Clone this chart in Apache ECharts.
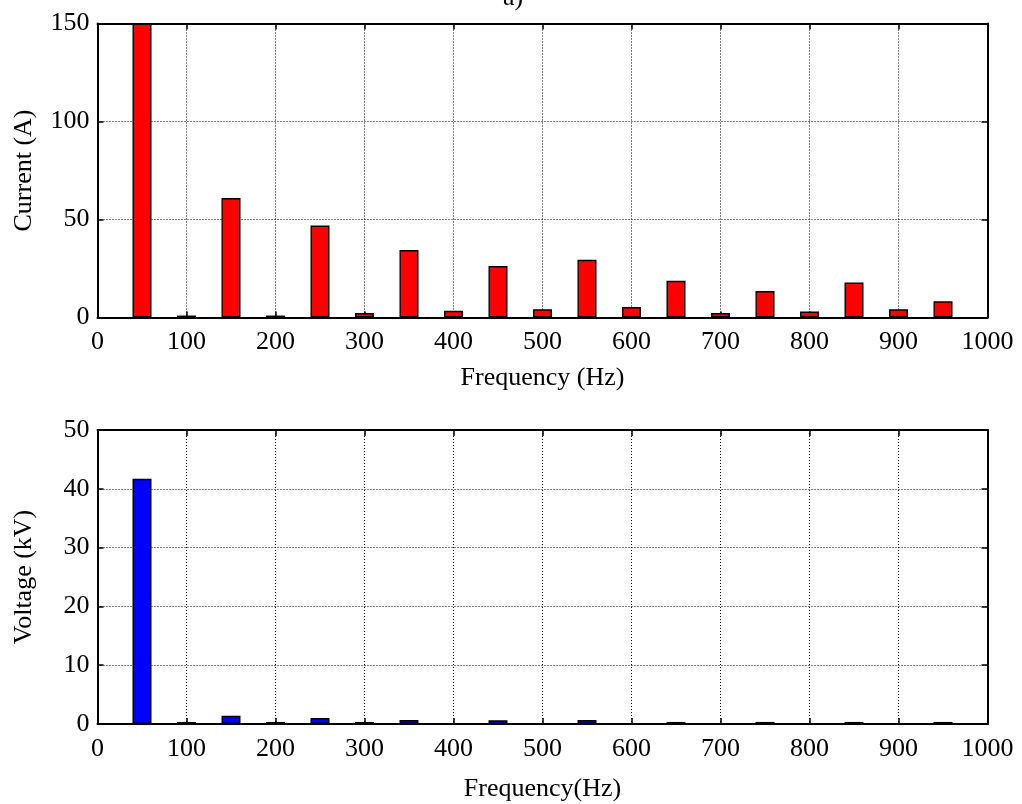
<!DOCTYPE html>
<html>
<head>
<meta charset="utf-8">
<script src="https://cdn.jsdelivr.net/npm/echarts@6/dist/echarts.min.js"></script>
<style>
html,body{margin:0;padding:0;background:#fff;}
#chart{width:1022px;height:804px;}
</style>
</head>
<body>
<div id="chart"></div>
<script>
// Harmonic frequencies (Hz)
var freqs = [50,100,150,200,250,300,350,400,450,500,550,600,650,700,750,800,850,900,950];
// Current harmonic amplitudes (A)
var currentVals = [150,1,61,1,47,2.3,34.5,3.4,26.3,4.2,29.5,5.4,18.8,2.3,13.5,3,17.8,4.2,8.3];
// Voltage harmonic amplitudes (kV)
var voltageVals = [41.7,0.35,1.4,0.35,1.0,0.35,0.7,0,0.65,0,0.7,0,0.35,0,0.35,0,0.35,0,0.35];
var xTicks = [0,100,200,300,400,500,600,700,800,900,1000];
var currentTicks = [0,50,100,150];
var voltageTicks = [0,10,20,30,40,50];

var FONT = 'Liberation Serif';
function pairs(vals){ return freqs.map(function(f,i){ return [f, vals[i]]; }); }
function plain(v){ return String(v); }

var gridLine = {show:true, lineStyle:{color:'#000', width:1, type:[1,2]}};
var frameLine = {show:true, onZero:false, lineStyle:{color:'#000', width:2}};
var tickIn = {show:true, inside:true, length:6, lineStyle:{color:'#000', width:1.5}};

function xMain(gi, name, gap){
  return {type:'value', gridIndex:gi, position:'bottom', min:xTicks[0], max:xTicks[xTicks.length-1], interval:xTicks[1]-xTicks[0],
    axisLine:frameLine, axisTick:tickIn, splitLine:gridLine,
    axisLabel:{color:'#000', fontFamily:FONT, fontSize:26, margin:12, formatter:plain},
    name:name, nameLocation:'middle', nameGap:gap,
    nameTextStyle:{color:'#000', fontFamily:FONT, fontSize:26}};
}
function xTop(gi){
  return {type:'value', gridIndex:gi, position:'top', min:xTicks[0], max:xTicks[xTicks.length-1], interval:xTicks[1]-xTicks[0],
    axisLine:frameLine, axisTick:tickIn, splitLine:{show:false}, axisLabel:{show:false}};
}
function yMain(gi, name, ticks){
  return {type:'value', gridIndex:gi, position:'left', min:ticks[0], max:ticks[ticks.length-1], interval:ticks[1]-ticks[0],
    axisLine:frameLine, axisTick:tickIn, splitLine:gridLine,
    axisLabel:{color:'#000', fontFamily:FONT, fontSize:26, margin:8, formatter:plain},
    name:name, nameLocation:'middle', nameGap:60,
    nameTextStyle:{color:'#000', fontFamily:FONT, fontSize:26}};
}
function yRight(gi, ticks){
  return {type:'value', gridIndex:gi, position:'right', min:ticks[0], max:ticks[ticks.length-1], interval:ticks[1]-ticks[0],
    axisLine:frameLine, axisTick:tickIn, splitLine:{show:false}, axisLabel:{show:false}};
}

var chart = echarts.init(document.getElementById('chart'), null, {renderer:'canvas'});
chart.setOption({
  backgroundColor:'#fff',
  animation:false,
  title:{text:'a)', left:498, top:-20, textStyle:{color:'#000', fontFamily:FONT, fontSize:26, fontWeight:'normal'}},
  grid:[
    {left:97.5, right:34.5, top:23.5, height:294},
    {left:97.5, right:34.5, top:430, height:294}
  ],
  xAxis:[ xMain(0,'Frequency (Hz)',48), xTop(0), xMain(1,'Frequency(Hz)',52), xTop(1) ],
  yAxis:[ yMain(0,'Current (A)',currentTicks), yRight(0,currentTicks), yMain(1,'Voltage (kV)',voltageTicks), yRight(1,voltageTicks) ],
  series:[
    {type:'bar', xAxisIndex:0, yAxisIndex:0, barWidth:19, data:pairs(currentVals),
      itemStyle:{color:'#ff0000', borderColor:'#000', borderWidth:1.5}},
    {type:'bar', xAxisIndex:2, yAxisIndex:2, barWidth:19, data:pairs(voltageVals),
      itemStyle:{color:'#0000ff', borderColor:'#000', borderWidth:1.5}}
  ]
});
</script>
</body>
</html>
